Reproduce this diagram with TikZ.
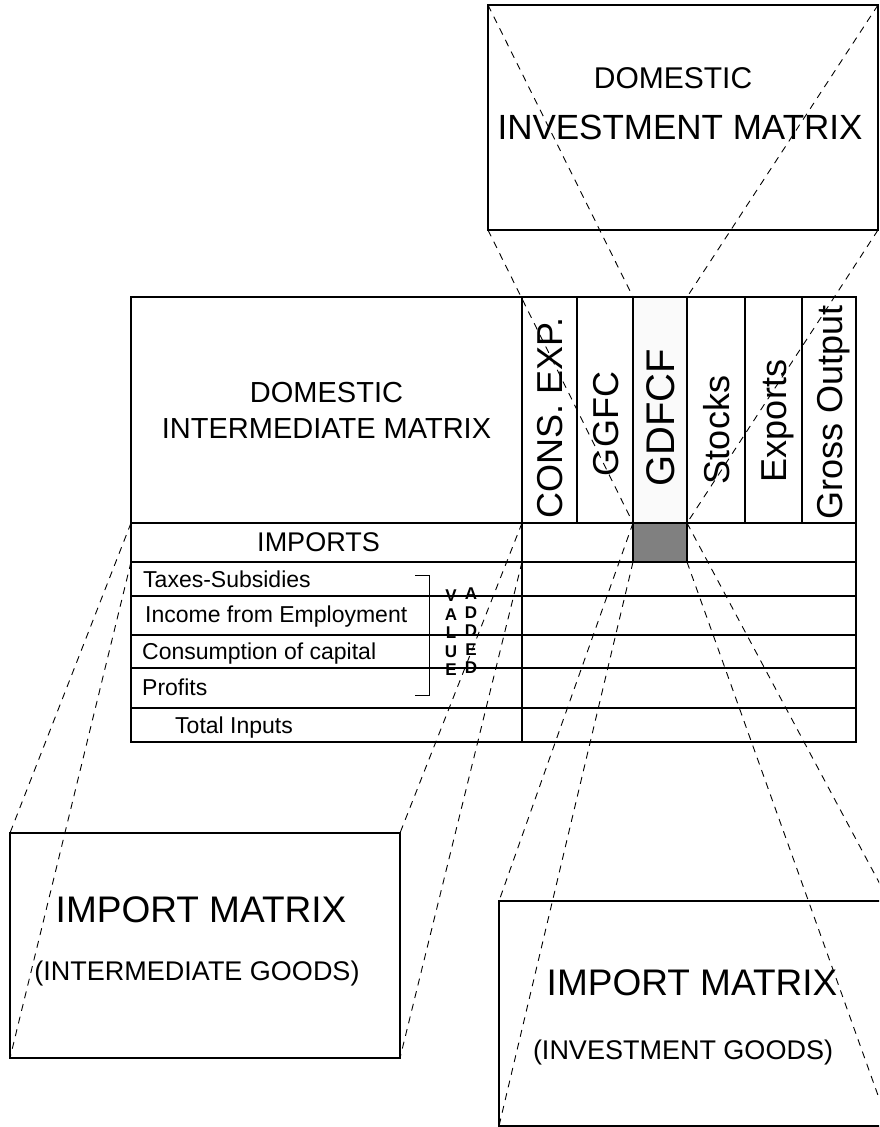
\documentclass[tikz,border=0pt]{standalone}
\usepackage{fontspec}
\setmainfont{Liberation Sans}
\usetikzlibrary{positioning}

\begin{document}
\begin{tikzpicture}[x=1pt,y=-1pt,
		cell/.style={draw,line width=1.2pt,outer sep=0pt,inner sep=0pt},
		bigbox/.style={draw,line width=1.2pt,outer sep=0pt,inner sep=0pt,minimum width=390pt,minimum height=225pt},
		collabel/.style={rotate=90,inner sep=0pt,text height=26pt,text depth=0pt,font=\fontsize{36}{43}\selectfont},
		rowlabel/.style={inner sep=0pt,anchor=base west,font=\fontsize{23}{28}\selectfont},
		boxlabel/.style={inner sep=0pt,font=\fontsize{37}{44}\selectfont},
		boxsub/.style={inner sep=0pt,font=\fontsize{27}{32}\selectfont},
		vaword/.style={inner sep=0pt,align=center,font=\fontsize{17}{18.5}\selectfont\bfseries},
		zoomline/.style={dash pattern=on 7pt off 6pt,line width=0.9pt}]
				\clip (0,0) rectangle (879,1127);

				\node[cell,anchor=north west,minimum width=391pt,minimum height=226pt,align=center,font=\fontsize{29}{36}\selectfont](intmat) at (131,297) {DOMESTIC\\INTERMEDIATE MATRIX};
				\node[cell,right=0pt of intmat,minimum width=55pt,minimum height=226pt](cons){};
				\node[cell,right=0pt of cons,minimum width=56pt,minimum height=226pt](ggfc){};
				\node[cell,fill=black!2,right=0pt of ggfc,minimum width=54pt,minimum height=226pt](gdfcf){};
				\node[cell,right=0pt of gdfcf,minimum width=58pt,minimum height=226pt](stocks){};
				\node[cell,right=0pt of stocks,minimum width=57pt,minimum height=226pt](exports){};
				\node[cell,right=0pt of exports,minimum width=54pt,minimum height=226pt](gross){};

				\node[cell,below=0pt of intmat,minimum width=391pt,minimum height=39pt](imp){};
				\node[cell,below=0pt of imp,minimum width=391pt,minimum height=34pt](tax){};
				\node[cell,below=0pt of tax,minimum width=391pt,minimum height=39pt](inc){};
				\node[cell,below=0pt of inc,minimum width=391pt,minimum height=33pt](cap){};
				\node[cell,below=0pt of cap,minimum width=391pt,minimum height=40pt](prof){};
				\node[cell,below=0pt of prof,minimum width=391pt,minimum height=34pt](tot){};
				\node[cell,right=0pt of imp,minimum width=334pt,minimum height=39pt](impR){};
				\node[cell,right=0pt of tax,minimum width=334pt,minimum height=34pt](taxR){};
				\node[cell,right=0pt of inc,minimum width=334pt,minimum height=39pt](incR){};
				\node[cell,right=0pt of cap,minimum width=334pt,minimum height=33pt](capR){};
				\node[cell,right=0pt of prof,minimum width=334pt,minimum height=40pt](profR){};
				\node[cell,right=0pt of tot,minimum width=334pt,minimum height=34pt](totR){};
				\node[cell,fill=black!50,below=0pt of gdfcf,minimum width=54pt,minimum height=39pt](gdimp){};

				\node[collabel](tcons) at ([yshift=-8pt]cons.center) {CONS. EXP.};
				\node[collabel](tggfc) at ([yshift=-14pt]ggfc.center) {GGFC};
				\node[collabel,text height=29pt,font=\fontsize{40}{48}\selectfont](tgdfcf) at ([yshift=-8pt]gdfcf.center) {GDFCF};
				\node[collabel](tstocks) at ([yshift=-20pt]stocks.center) {Stocks};
				\node[collabel](texports) at ([yshift=-11pt]exports.center) {Exports};
				\node[collabel](tgross) at ([yshift=-2pt]gross.center) {Gross Output};

				\node[inner sep=0pt,font=\fontsize{27}{32}\selectfont](limp) at ([xshift=-8pt]imp.center) {IMPORTS};
				\node[rowlabel](ltax) at ([xshift=12pt,yshift=-8pt]tax.west) {Taxes-Subsidies};
				\node[rowlabel](linc) at ([xshift=14pt,yshift=-7pt]inc.west) {Income from Employment};
				\node[rowlabel](lcap) at ([xshift=11pt,yshift=-8pt]cap.west) {Consumption of capital};
				\node[rowlabel](lprof) at ([xshift=11pt,yshift=-7pt]prof.west) {Profits};
				\node[rowlabel](ltot) at ([xshift=44pt,yshift=-8pt]tot.west) {Total Inputs};
				\draw[line width=1pt] (415,575) -- (429,575) -- (429,695) -- (415,695);
				\node[vaword](value) at (451,633) {V\\A\\L\\U\\E};
				\node[vaword](added) at (471,631) {A\\D\\D\\E\\D};

				\node[bigbox,anchor=north west](dim) at (488,5) {};
				\node[inner sep=0pt,font=\fontsize{30}{36}\selectfont](dimtop) at (673,78) {DOMESTIC};
				\node[inner sep=0pt,font=\fontsize{35}{42}\selectfont](dimbot) at (680,127) {INVESTMENT MATRIX};

				\node[bigbox,anchor=north west](imint) at (10,833) {};
				\node[boxlabel](imintA) at (201,910) {IMPORT MATRIX};
				\node[boxsub](imintB) at (197,974) {(INTERMEDIATE GOODS)};

				\node[bigbox,anchor=north west](iminv) at (499,901) {};
				\node[boxlabel](iminvA) at (692,983) {IMPORT MATRIX};
				\node[boxsub](iminvB) at (683,1052) {(INVESTMENT GOODS)};

				\draw[zoomline] (dim.north west) to (gdfcf.north west);
				\draw[zoomline] (dim.north east) to (gdfcf.north east);
				\draw[zoomline] (dim.south west) to (gdfcf.south west);
				\draw[zoomline] (dim.south east) to (gdfcf.south east);
				\draw[zoomline] (imp.north west) to (imint.north west);
				\draw[zoomline] (imp.north east) to (imint.north east);
				\draw[zoomline] (imp.south west) to (imint.south west);
				\draw[zoomline] (imp.south east) to (imint.south east);
				\draw[zoomline] (gdimp.north west) to (iminv.north west);
				\draw[zoomline] (gdimp.north east) to (iminv.north east);
				\draw[zoomline] (gdimp.south west) to (iminv.south west);
				\draw[zoomline] (gdimp.south east) to (iminv.south east);
			\end{tikzpicture}
\end{document}
